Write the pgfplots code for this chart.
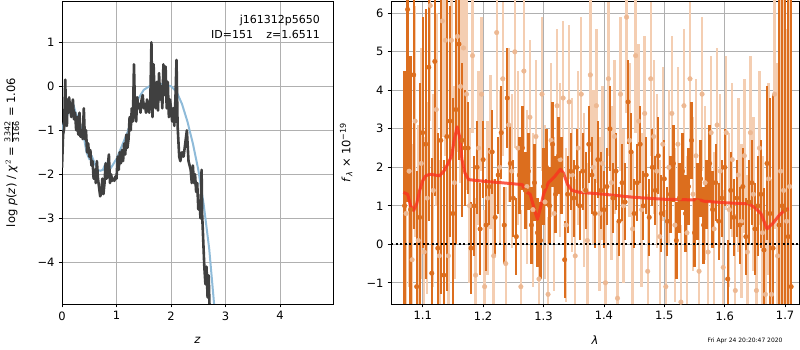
\documentclass[border=0pt]{standalone}
\usepackage{pgfplots}
\pgfplotsset{compat=1.18}
\usepackage{pgfplotstable}
\usepackage{fontspec}
\setmainfont{DejaVu Sans}
\definecolor{gridc}{RGB}{176,176,176}
\definecolor{pzc}{RGB}{64,64,64}
\definecolor{bluec}{RGB}{143,187,217}
\definecolor{orgd}{RGB}{220,110,30}
\definecolor{orgl}{RGB}{244,206,178}
\definecolor{orgm}{RGB}{237,184,146}
\definecolor{redc}{RGB}{250,50,30}

\pgfplotstableread{
x y
0.00 -1.85
0.02 -1.10
0.04 -0.95
0.05 -0.30
0.06 0.15
0.07 -0.50
0.09 -0.90
0.10 -0.30
0.12 -0.60
0.13 -0.25
0.15 -0.50
0.17 -0.70
0.19 -0.40
0.20 -0.30
0.22 -0.75
0.24 -0.60
0.26 -1.00
0.28 -0.70
0.30 -1.10
0.32 -0.60
0.34 -1.15
0.36 -1.00
0.38 -1.20
0.40 -0.50
0.42 -1.20
0.44 -1.00
0.46 -1.50
0.48 -1.30
0.50 -1.60
0.52 -1.45
0.54 -1.80
0.56 -1.70
0.58 -2.10
0.60 -1.90
0.62 -2.20
0.64 -1.70
0.66 -2.10
0.68 -2.30
0.70 -2.50
0.72 -2.45
0.74 -2.10
0.76 -2.45
0.78 -2.20
0.80 -1.75
0.82 -2.10
0.84 -1.80
0.86 -1.55
0.88 -2.20
0.90 -2.00
0.92 -2.15
0.94 -2.10
0.96 -2.15
0.98 -2.05
1.00 -2.10
1.02 -1.60
1.04 -1.90
1.06 -1.50
1.08 -1.75
1.10 -1.45
1.12 -1.70
1.14 -1.30
1.16 -1.55
1.18 -1.10
1.20 -1.40
1.22 -1.20
1.24 -0.70
1.26 -1.00
1.28 -0.50
1.30 -0.80
1.32 0.50
1.34 -0.60
1.36 -0.80
1.38 -0.25
1.40 -0.50
1.42 -0.40
1.44 -0.60
1.46 -0.30
1.48 -0.20
1.50 -0.50
1.52 -0.40
1.54 -0.60
1.56 -0.30
1.58 -0.50
1.60 -0.60
1.62 -0.30
1.64 1.00
1.66 -0.70
1.68 0.50
1.70 -0.30
1.72 -0.50
1.74 0.10
1.76 -0.55
1.78 0.30
1.80 -0.30
1.82 0.00
1.84 -0.50
1.86 0.50
1.88 -0.20
1.90 0.45
1.92 -0.50
1.94 0.10
1.96 -0.70
1.98 -0.30
2.00 -0.50
2.02 -0.80
2.04 -0.50
2.06 -0.90
2.08 -0.30
2.10 0.60
2.12 -0.90
2.15 -1.60
2.17 -1.70
2.20 -1.50
2.23 -1.60
2.26 -1.30
2.29 -1.00
2.32 -1.70
2.36 -1.90
2.38 -2.20
2.40 -1.80
2.42 -2.20
2.44 -2.00
2.46 -2.40
2.48 -2.20
2.50 -2.80
2.52 -2.60
2.54 -3.00
2.56 -1.90
2.57 -2.90
2.59 -3.50
2.61 -4.10
2.63 -4.50
2.65 -4.10
2.67 -4.80
2.69 -4.30
2.71 -5.20
}\pzdata

\pgfplotstableread{
x y
0.00 -1.00
0.05 -0.75
0.10 -0.65
0.15 -0.40
0.20 -0.38
0.25 -0.60
0.30 -0.75
0.35 -0.95
0.40 -1.15
0.45 -1.50
0.50 -1.65
0.55 -1.60
0.60 -1.75
0.65 -1.90
0.70 -1.92
0.75 -1.90
0.80 -1.75
0.85 -1.80
0.90 -1.85
0.95 -1.75
1.00 -1.65
1.05 -1.50
1.10 -1.35
1.20 -1.05
1.30 -0.65
1.40 -0.28
1.50 -0.08
1.60 0.00
1.70 0.03
1.80 0.05
1.90 0.04
2.00 0.00
2.10 -0.12
2.20 -0.40
2.30 -0.80
2.40 -1.30
2.50 -1.90
2.60 -2.70
2.70 -3.70
2.80 -5.10
}\bluedata

\pgfplotstableread{
x y e
1.070 1.0 3.5
1.075 6.1 5
1.080 0.9 4
1.085 4.4 4
1.090 -1.1 3
1.095 0.7 3.5
1.100 2.9 3
1.105 2.6 3.5
1.110 4.6 4
1.115 -0.75 3
1.120 4.75 3.5
1.125 -0.1 3
1.130 2.7 4
1.135 -0.8 3
1.140 2.8 4
1.145 3.2 3
1.150 0.8 3
1.155 3.5 3.5
1.160 5.2 3
1.165 2.7 2
1.170 2.5 1.5
1.175 2.5 1.2
1.180 -0.1 1.2
1.185 1.0 1.3
1.190 2.0 1.2
1.195 0.4 1.2
1.200 2.2 1.0
1.205 0.5 1.2
1.210 1.5 1.0
1.215 2.4 1.1
1.220 0.7 1.0
1.225 1.8 1.0
1.230 2.9 1.2
1.235 0.5 1.0
1.240 3.8 1.3
1.245 2.1 1.0
1.250 1.2 1.0
1.255 0.2 1.0
1.260 1.8 1.0
1.265 2.5 1.1
1.270 1.4 1.0
1.275 1.9 1.0
1.280 0.5 1.0
1.285 1.6 1.0
1.290 0.3 0.9
1.295 0.1 1.0
1.300 1.5 1.0
1.305 2.0 1.0
1.310 1.0 1.0
1.315 2.6 1.1
1.320 1.3 1.0
1.325 2.3 1.0
1.330 1.8 1.0
1.335 -0.4 1.0
1.340 1.3 1.0
1.345 1.9 1.0
1.350 1.2 1.0
1.355 2.0 1.0
1.360 1.0 0.9
1.365 1.9 1.0
1.370 1.4 1.0
1.375 2.6 1.0
1.380 1.8 1.0
1.385 0.8 0.9
1.390 2.2 1.0
1.395 1.4 1.0
1.400 0.9 1.0
1.405 1.5 1.0
1.410 3.0 1.1
1.415 1.2 0.9
1.420 1.9 1.0
1.425 0.6 0.9
1.430 1.6 1.0
1.435 1.1 1.0
1.440 3.7 1.1
1.445 2.4 1.0
1.450 0.8 0.9
1.455 1.6 1.0
1.460 2.6 1.0
1.465 1.0 0.9
1.470 1.8 1.0
1.475 0.7 1.0
1.480 2.0 1.0
1.485 1.4 0.9
1.490 2.3 1.0
1.495 0.8 1.0
1.500 1.7 1.0
1.505 0.6 0.9
1.510 1.3 1.0
1.515 2.1 1.0
1.520 0.1 1.0
1.525 1.2 0.9
1.530 1.9 1.0
1.535 0.8 1.0
1.540 1.5 1.0
1.545 2.7 1.0
1.550 0.3 0.9
1.555 1.1 1.0
1.560 1.7 1.0
1.565 0.5 1.0
1.570 1.3 0.9
1.575 2.1 1.0
1.580 0.9 1.0
1.585 1.6 1.0
1.590 0.6 1.0
1.595 1.2 1.0
1.600 2.0 1.0
1.605 -0.9 1.0
1.610 1.4 1.0
1.615 0.7 1.0
1.620 1.2 1.0
1.625 0.5 1.0
1.630 1.5 1.0
1.635 0.2 1.0
1.640 1.1 1.1
1.645 1.6 1.1
1.650 0.4 1.2
1.655 1.0 1.3
1.660 1.3 1.4
1.665 -0.15 1.6
1.670 2.1 2
1.675 0.8 3
1.680 -0.1 4
1.690 0.5 6
1.695 1.0 8
1.700 0.9 8
1.705 0.2 8
1.710 -1.1 8
}\darkdata

\pgfplotstableread{
x y e
1.0725 0.8 3.5
1.0775 1.9 3
1.0825 -0.4 3
1.0875 3.2 3
1.0925 0.1 3
1.0975 2.1 3
1.1025 -0.2 3
1.1075 1.2 2.5
1.1125 6.2 3
1.1175 1.4 2.5
1.1225 3.5 2.5
1.1275 -0.3 2.5
1.1325 5.8 3
1.1375 5.3 3
1.1425 -0.3 2.5
1.1475 5.3 3
1.1525 1.6 2.5
1.1575 5.4 3
1.1625 4.1 2.5
1.1675 5.1 2.5
1.1725 3.9 2.5
1.1775 1.0 2
1.1825 4.9 2
1.1875 -0.8 2
1.1925 2.5 2
1.1975 3.9 2
1.2025 -1.1 2
1.2075 1.2 2
1.2125 2.4 2
1.2175 -0.3 2
1.2225 5.5 2.5
1.2275 2.0 2
1.2325 4.3 2
1.2375 -0.5 2
1.2425 3.1 2
1.2475 1.9 2
1.2525 5.0 2.5
1.2575 2.5 2
1.2625 -1.1 2
1.2675 4.5 2
1.2725 1.5 2
1.2775 3.3 2
1.2825 0.9 2
1.2875 2.8 2
1.2925 -0.9 2
1.2975 3.9 2
1.3025 1.1 2
1.3075 -1.3 2
1.3125 2.7 2
1.3175 0.8 2
1.3225 3.6 2
1.3275 2.2 2
1.3325 3.8 2
1.3375 0.5 2
1.3425 3.7 2
1.3475 1.8 2
1.3525 -0.3 2
1.3575 2.5 2
1.3625 3.9 2
1.3675 1.4 2
1.3725 0.1 2
1.3775 4.4 2
1.3825 2.0 2
1.3875 3.6 2
1.3925 0.8 2
1.3975 2.1 2
1.4025 -1.0 2
1.4075 4.3 2
1.4125 1.6 2
1.4175 2.8 2
1.4225 -1.4 2
1.4275 3.9 2
1.4325 1.0 2
1.4375 5.9 2.5
1.4425 2.7 2
1.4475 0.4 2
1.4525 4.9 2
1.4575 3.2 2
1.4625 0.9 2
1.4675 3.4 2
1.4725 -0.7 2
1.4775 4.3 2
1.4825 2.8 2
1.4875 1.9 2
1.4925 0.2 2
1.4975 2.6 2
1.5025 -1.1 2
1.5075 2.0 2
1.5125 3.4 2
1.5175 0.5 2
1.5225 2.6 2
1.5275 -1.5 2
1.5325 3.6 2
1.5375 0.3 2
1.5425 4.3 2
1.5475 1.3 2
1.5525 2.3 2
1.5575 -0.7 2
1.5625 3.9 2
1.5675 1.6 2
1.5725 -0.2 2
1.5775 2.9 2
1.5825 0.4 2
1.5875 3.1 2
1.5925 1.9 2
1.5975 -0.6 2
1.6025 2.9 2
1.6075 0.9 2
1.6125 2.2 2
1.6175 -1.2 2
1.6225 1.8 2
1.6275 0.6 2
1.6325 2.3 2
1.6375 -0.2 2
1.6425 2.9 2
1.6475 1.3 2
1.6525 -1.2 2
1.6575 2.5 2
1.6625 0.3 2
1.6675 -1.3 2.2
1.6725 1.7 2.5
1.6775 -1.3 3
1.6825 3.9 3.5
1.6875 -0.3 5
1.6925 1.9 5
1.6975 1.4 5
1.7025 0.6 5
1.7075 1.5 5
}\lightdata

\pgfplotstableread{
x y
1.068 1.35
1.075 1.30
1.080 1.00
1.085 0.88
1.090 1.05
1.095 1.40
1.100 1.65
1.105 1.78
1.112 1.82
1.120 1.80
1.128 1.78
1.135 1.90
1.142 2.10
1.148 2.30
1.152 2.70
1.157 3.05
1.161 2.80
1.165 2.20
1.170 1.85
1.176 1.68
1.200 1.64
1.230 1.60
1.265 1.55
1.270 1.38
1.278 1.30
1.285 0.90
1.290 0.65
1.295 0.95
1.300 1.30
1.308 1.60
1.318 1.75
1.323 1.85
1.328 1.95
1.333 1.85
1.340 1.55
1.347 1.40
1.360 1.35
1.400 1.30
1.450 1.22
1.500 1.17
1.560 1.15
1.565 1.12
1.600 1.08
1.640 1.05
1.650 0.95
1.660 0.80
1.665 0.60
1.670 0.40
1.680 0.55
1.690 0.75
1.700 0.90
1.706 0.92
}\modeldata

\begin{document}
\begin{tikzpicture}[x=1pt,y=1pt]
\fontsize{11.5}{13.5}\selectfont
\useasboundingbox (0,0) rectangle (800,350);

\begin{axis}[
  at={(62pt,46pt)}, anchor=south west,
  scale only axis, width=271pt, height=303pt,
  xmin=0, xmax=4.97, ymin=-4.95, ymax=1.94,
  xtick={0,1,2,3,4}, xticklabels={0,1,2,3,4},
  ytick={-4,-3,-2,-1,0,1}, yticklabels={−4,−3,−2,−1,0,1},
  grid=major, grid style={gridc, line width=0.8pt},
  axis line style={line width=0.8pt},
  tick align=outside, major tick length=3.5pt,
  tick style={black, line width=0.8pt},
  xtick pos=bottom, ytick pos=left,
  ticklabel style={font=\fontsize{11.5}{13.5}\selectfont},
  xlabel={\textit{z}},
  xlabel style={at={(axis description cs:0.5,-0.119)}, anchor=center},
  ylabel={log \textit{p}(\textit{z}) / \textit{χ}$^{2}$ = $\frac{\mbox{\footnotesize 3342}}{\mbox{\footnotesize 3166}}$ = 1.06},
  ylabel style={at={(axis description cs:-0.185,0.5)}, anchor=center},
  label style={font=\fontsize{11.5}{13.5}\selectfont},
  clip=true,
]
\addplot[bluec, line width=2pt] table[x=x,y=y] {\bluedata};
\addplot[pzc, line width=2.6pt, line join=round] table[x=x,y=y] {\pzdata};
\node[anchor=north east, align=right, inner sep=0pt, font=\fontsize{11}{15}\selectfont]
  at (rel axis cs:0.952,0.955) {j161312p5650\\ID=151\hspace{1.2em}z=1.6511};
\end{axis}

\begin{axis}[
  at={(391pt,46pt)}, anchor=south west,
  scale only axis, width=408pt, height=303pt,
  xmin=1.0475, xmax=1.723, ymin=-1.55, ymax=6.32,
  xtick={1.1,1.2,1.3,1.4,1.5,1.6,1.7}, xticklabels={1.1,1.2,1.3,1.4,1.5,1.6,1.7},
  ytick={-1,0,1,2,3,4,5,6}, yticklabels={−1,0,1,2,3,4,5,6},
  grid=major, grid style={gridc, line width=0.8pt},
  axis line style={line width=0.8pt},
  tick align=outside, major tick length=3.5pt,
  tick style={black, line width=0.8pt},
  xtick pos=bottom, ytick pos=left,
  ticklabel style={font=\fontsize{11.5}{13.5}\selectfont},
  xlabel={\textit{λ}},
  xlabel style={at={(axis description cs:0.5,-0.119)}, anchor=center},
  ylabel={\textit{f}\textsubscript{\textit{λ}} × 10\textsuperscript{−19}},
  ylabel style={at={(axis description cs:-0.11,0.5)}, anchor=center},
  label style={font=\fontsize{11.5}{13.5}\selectfont},
  clip=true,
]
\addplot[only marks, mark=*, mark size=2.3pt, orgm, mark options={draw=none, fill=orgm},
  error bars/.cd, y dir=both, y explicit,
  error bar style={orgl, line width=2.4pt}, error mark=none]
  table[x=x,y=y,y error=e] {\lightdata};
\addplot[only marks, mark=*, mark size=2.3pt, orgd, mark options={draw=none, fill=orgd},
  error bars/.cd, y dir=both, y explicit,
  error bar style={orgd, line width=2.3pt}, error mark=none]
  table[x=x,y=y,y error=e] {\darkdata};
\addplot[redc, line width=3pt, opacity=0.8, line join=round] table[x=x,y=y] {\modeldata};
\addplot[black, line width=2pt, dash pattern=on 2pt off 2.5pt] coordinates {(1.0475,0) (1.723,0)};
\end{axis}

\node[font=\fontsize{6}{7}\selectfont, anchor=center] at (745,9.5) {Fri Apr 24 20:20:47 2020};
\end{tikzpicture}
\end{document}
